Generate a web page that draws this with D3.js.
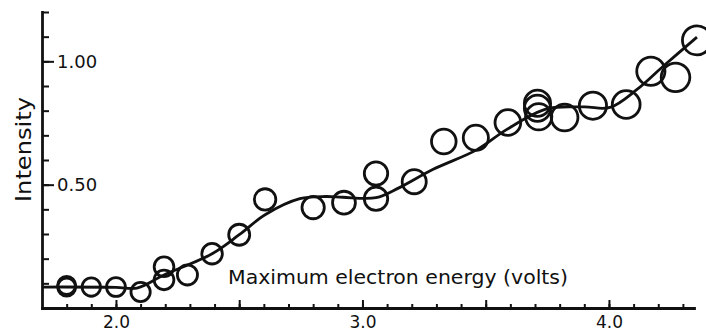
<!DOCTYPE html>
<html><head><meta charset="utf-8">
<script src="https://cdn.jsdelivr.net/npm/d3@7"></script>
<style>
html,body{margin:0;padding:0;background:#fff;}
svg{display:block;}
text{font-family:"DejaVu Sans",sans-serif;fill:#111;}
</style></head>
<body>
<svg id="chart" width="706" height="334"></svg>
<script>
// Measured points
const energy = [1.80, 1.80, 1.90, 2.00, 2.10, 2.195, 2.195, 2.29, 2.39, 2.50, 2.605, 2.80, 2.925, 3.055, 3.055, 3.21, 3.33, 3.46, 3.59, 3.71, 3.71, 3.715, 3.82, 3.935, 4.07, 4.17, 4.27, 4.357];
const intensity = [0.085, 0.092, 0.085, 0.085, 0.065, 0.167, 0.114, 0.134, 0.22, 0.297, 0.44, 0.407, 0.427, 0.545, 0.443, 0.512, 0.675, 0.69, 0.752, 0.83, 0.81, 0.775, 0.772, 0.82, 0.825, 0.96, 0.935, 1.085];
// Fitted smooth curve
const curveEnergy = [1.70, 2.00, 2.085, 2.195, 2.39, 2.50, 2.605, 2.746, 2.85, 2.92, 3.055, 3.15, 3.285, 3.465, 3.586, 3.75, 3.90, 4.004, 4.114, 4.22, 4.357];
const curveIntensity = [0.085, 0.084, 0.081, 0.134, 0.22, 0.297, 0.378, 0.443, 0.452, 0.449, 0.447, 0.488, 0.561, 0.642, 0.724, 0.808, 0.815, 0.813, 0.886, 0.98, 1.098];
// Ticks
const xMinorTicks = d3.range(18, 44).map(d => d / 10);
const xMajorTicks = [2.0, 2.5, 3.0, 3.5, 4.0];
const xLabelTicks = [2.0, 3.0, 4.0];
const yMinorTicks = d3.range(1, 13).map(d => d / 10);
const yLabelTicks = [0.5, 1.0];
const xTitle = "Maximum electron energy (volts)";
const yTitle = "Intensity";

const svg = d3.select("#chart");
const x = d3.scaleLinear().domain([1.70, 4.345]).range([42, 694]);
const y = d3.scaleLinear().domain([0, 1.20]).range([308, 12]);
const r = d3.scaleLinear().domain([1.8, 4.35]).range([9, 14.5]);

// X axis
const gx = svg.append("g").attr("transform", `translate(0,${y(0)})`);
gx.call(d3.axisBottom(x).tickValues(xMinorTicks).tickSizeInner(-4).tickSizeOuter(0).tickFormat(""));
const gx2 = svg.append("g").attr("transform", `translate(0,${y(0)})`);
gx2.call(d3.axisBottom(x).tickValues(xMajorTicks).tickSizeInner(-8).tickSizeOuter(0).tickPadding(8)
  .tickFormat(d => xLabelTicks.includes(d) ? d.toFixed(1) : ""));
gx2.select(".domain").remove();

// Y axis
const gy = svg.append("g").attr("transform", `translate(${x(1.70)},0)`);
gy.call(d3.axisRight(y).tickValues(yMinorTicks).tickSizeInner(7).tickSizeOuter(0).tickFormat(""));
const gy2 = svg.append("g").attr("transform", `translate(${x(1.70)},0)`);
gy2.call(d3.axisRight(y).tickValues(yLabelTicks).tickSizeInner(12).tickSizeOuter(0).tickPadding(3)
  .tickFormat(d3.format(".2f")));
gy2.select(".domain").remove();

svg.selectAll(".domain").attr("stroke", "#111").attr("stroke-width", 2.8).attr("stroke-linecap", "square");
svg.selectAll(".tick line").attr("stroke", "#111").attr("stroke-width", 2);
gx2.selectAll(".tick text").attr("font-size", 17).attr("font-family", "DejaVu Sans").attr("fill", "#111");
gy2.selectAll(".tick text").attr("font-size", 18).attr("font-family", "DejaVu Sans").attr("fill", "#111");

// Curve
const pts = curveEnergy.map((e, i) => [e, curveIntensity[i]]);
const line = d3.line().x(d => x(d[0])).y(d => y(d[1])).curve(d3.curveCatmullRom.alpha(0.5));
svg.append("path").attr("d", line(pts)).attr("fill", "none").attr("stroke", "#111").attr("stroke-width", 2.8);

// Points
svg.append("g").selectAll("circle").data(energy.map((e, i) => [e, intensity[i]])).join("circle")
  .attr("cx", d => x(d[0])).attr("cy", d => y(d[1])).attr("r", d => r(d[0]))
  .attr("fill", "none").attr("stroke", "#111").attr("stroke-width", 2.8);

// Titles
svg.append("text").attr("x", 228).attr("y", 284).attr("font-size", 20)
  .attr("textLength", 340).attr("lengthAdjust", "spacingAndGlyphs").text(xTitle);
svg.append("text").attr("transform", "translate(31,202) rotate(-90)").attr("font-size", 21)
  .attr("textLength", 105).attr("lengthAdjust", "spacingAndGlyphs").text(yTitle);
</script>
</body></html>
